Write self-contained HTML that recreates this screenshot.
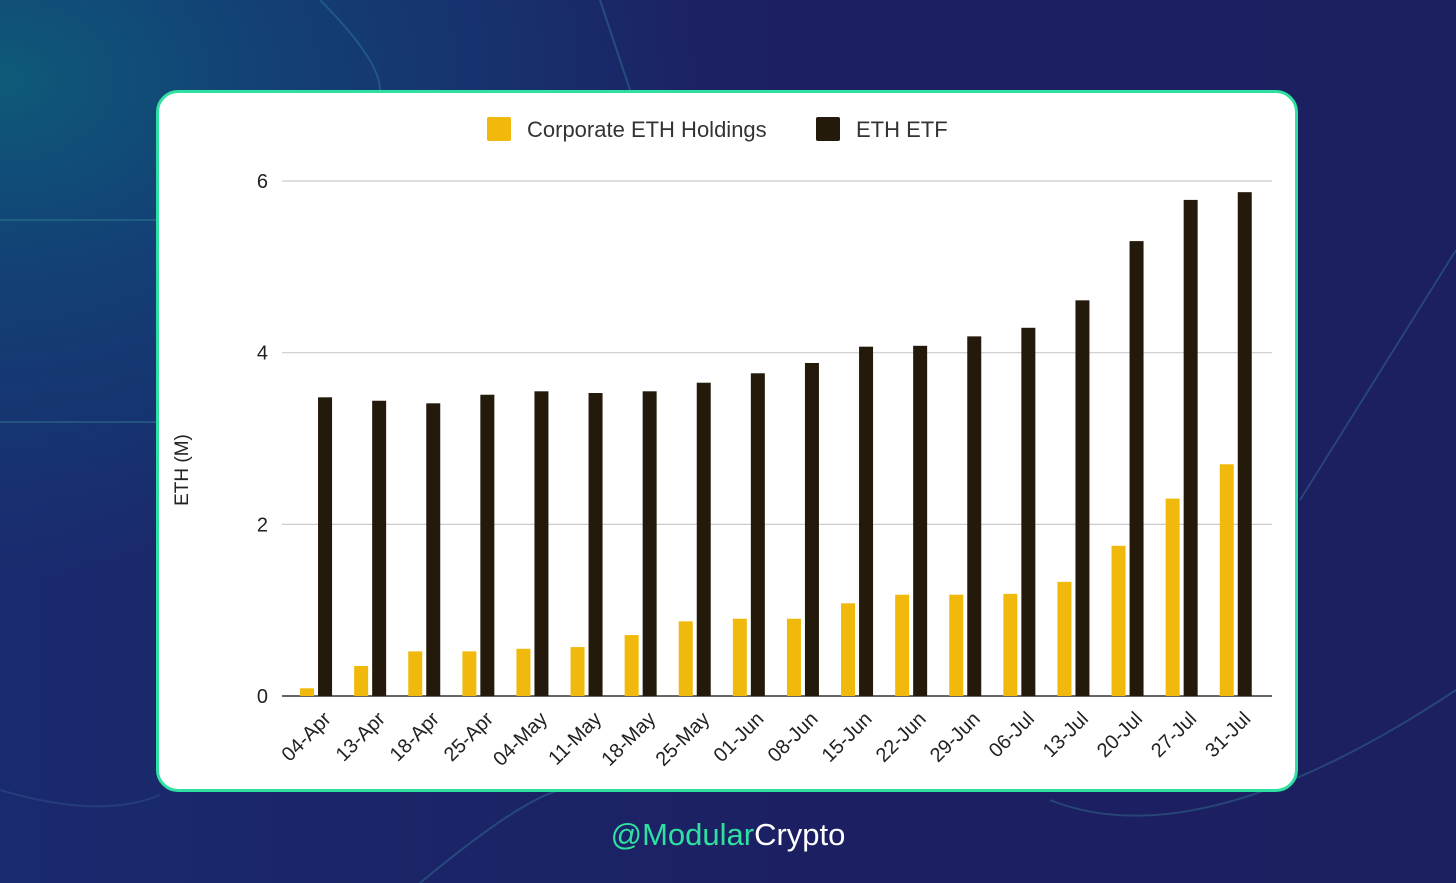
<!DOCTYPE html>
<html><head><meta charset="utf-8"><style>
html,body{margin:0;padding:0}
body{width:1456px;height:883px;overflow:hidden;position:relative;font-family:"Liberation Sans",sans-serif;
background:radial-gradient(ellipse 700px 500px at 0px 80px,#0e5a78 0%,#133f76 40%,rgba(27,32,96,0) 100%),linear-gradient(90deg,#1a2a6e 0%,#1c1f62 60%,#1c1f60 100%);}
#card{position:absolute;left:156px;top:90px;width:1136px;height:696px;background:#fff;border:3px solid #2fe0a0;border-radius:22px}
#footer{position:absolute;left:0;width:1456px;top:817px;text-align:center;font-size:31px;color:#fff}
</style></head><body>
<svg width="1456" height="883" style="position:absolute;left:0;top:0">
<path d="M0 220 H160 M0 422 H160 M320 0 Q380 60 380 90 M600 0 L630 90 M1050 800 Q1200 860 1456 690 M1300 500 L1456 250 M420 883 Q520 800 560 790" stroke="#3a8fa0" stroke-opacity="0.35" fill="none" stroke-width="2"/>
<path d="M0 790 Q100 820 160 795" stroke="#3a6fa0" stroke-opacity="0.3" fill="none" stroke-width="2"/>
</svg>
<div id="card"></div>
<svg id="chart" width="1456" height="883" style="position:absolute;left:0;top:0"></svg>
<div id="footer"><span style="color:#2fe0a0">@Modular</span>Crypto</div>
<script>
const categories=["04-Apr","13-Apr","18-Apr","25-Apr","04-May","11-May","18-May","25-May","01-Jun","08-Jun","15-Jun","22-Jun","29-Jun","06-Jul","13-Jul","20-Jul","27-Jul","31-Jul"];
const corporate=[0.09,0.35,0.52,0.52,0.55,0.57,0.71,0.87,0.90,0.90,1.08,1.18,1.18,1.19,1.33,1.75,2.30,2.70];
const etf=[3.48,3.44,3.41,3.51,3.55,3.53,3.55,3.65,3.76,3.88,4.07,4.08,4.19,4.29,4.61,5.30,5.78,5.87];
const yTicks=[0,2,4,6];
const NS="http://www.w3.org/2000/svg";
const svg=document.getElementById('chart');
const y0=696,yPer=85.83,x0=289,band=54.1;
const yS=v=>y0-v*yPer, xC=i=>x0+band*(i+0.5);
function mk(t,a,p){const e=document.createElementNS(NS,t);for(const k in a)e.setAttribute(k,a[k]);(p||svg).appendChild(e);return e;}
yTicks.forEach(t=>{
 const l=mk('line',{x1:282,x2:1272,y1:yS(t),y2:yS(t),stroke:t===0?'#333':'#ccc','stroke-width':t===0?1.5:1.2});
 
 
 const tx=mk('text',{x:268,y:yS(t)+7,'text-anchor':'end','font-size':20,fill:'#222'});tx.textContent=t;
 
 
});
const yt=mk('text',{x:0,y:0,transform:'translate(188,470) rotate(-90)','text-anchor':'middle','font-size':19,fill:'#222'});yt.textContent='ETH (M)';


categories.forEach((c,i)=>{
 const cx=xC(i);
 const b1=mk('rect',{x:cx-9-7,y:yS(corporate[i]),width:14,height:corporate[i]*yPer,fill:'#f1b90c'});
 
 
 const b2=mk('rect',{x:cx+9-7,y:yS(etf[i]),width:14,height:etf[i]*yPer,fill:'#231a0c'});
 
 
 const t=mk('text',{x:0,y:0,transform:`translate(${cx+16},${720}) rotate(-45)`,'text-anchor':'end','font-size':20,fill:'#222'});t.textContent=c;
 
 
});
const lg=[["Corporate ETH Holdings","#f1b90c",487],["ETH ETF","#231a0c",816]];
lg.forEach(([n,col,x])=>{
 const g=mk('g',{});
 
 
 mk('rect',{x:x,y:117,width:24,height:24,rx:2,fill:col},g);
 const t=mk('text',{x:x+40,y:137,'font-size':22,fill:'#333'},g);t.textContent=n;
});
</script>
</body></html>
